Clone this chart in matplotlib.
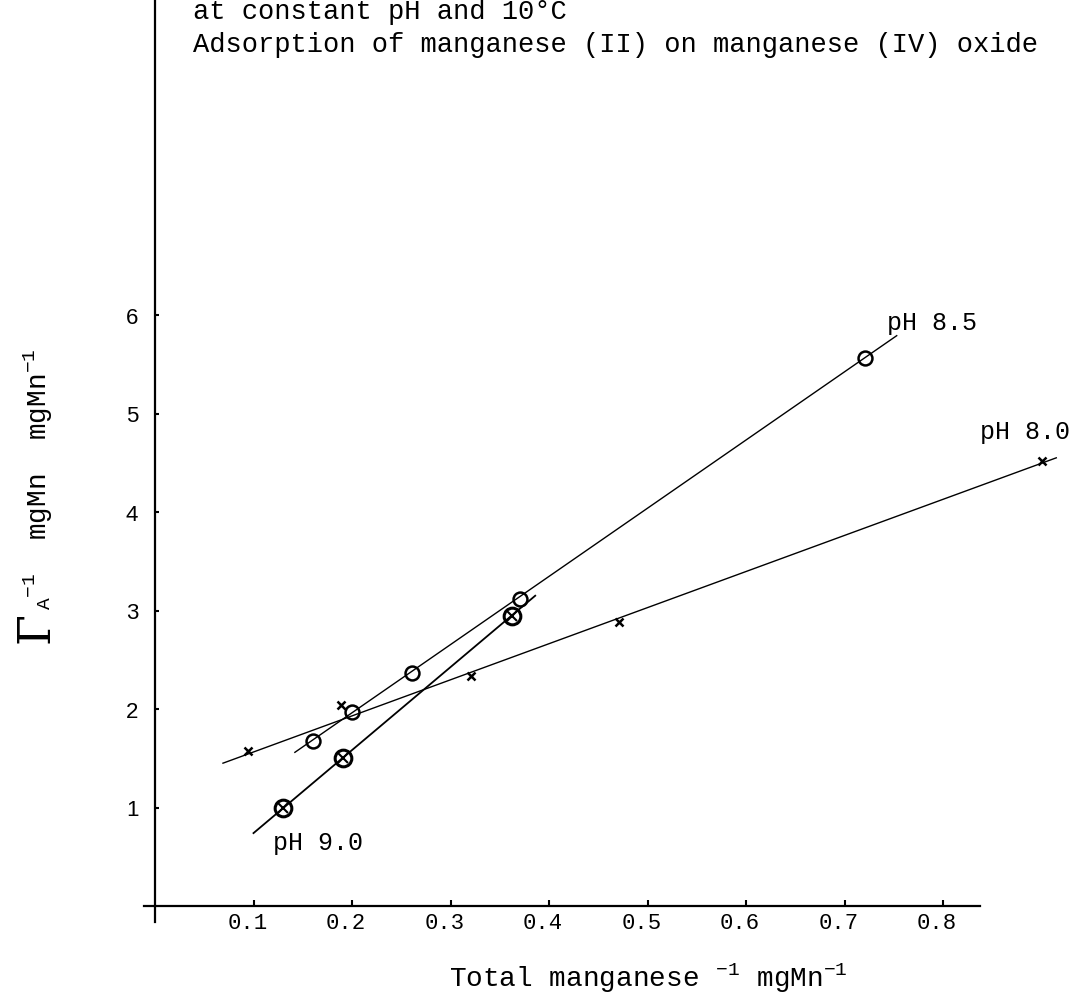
import numpy as np
import matplotlib
matplotlib.use("Agg")
import matplotlib.pyplot as plt
import matplotlib.transforms as mtransforms

# -----------------------------
# DATA
# -----------------------------

# pH 8.0 : crosses
x_80 = [0.094, 0.189, 0.321, 0.471, 0.900]
y_80 = [1.57, 2.04, 2.33, 2.88, 4.52]
fit_80_x = [0.069, 0.915]
fit_80_y = [1.45, 4.55]

# pH 8.5 : open circles
x_85 = [0.160, 0.200, 0.261, 0.371, 0.721]
y_85 = [1.68, 1.97, 2.37, 3.12, 5.56]
fit_85_x = [0.142, 0.753]
fit_85_y = [1.56, 5.79]

# pH 9.0 : crossed circles
x_90 = [0.130, 0.191, 0.362]
y_90 = [0.99, 1.50, 2.94]
fit_90_x = [0.100, 0.386]
fit_90_y = [0.74, 3.15]

xticks = [0.1, 0.2, 0.3, 0.4, 0.5, 0.6, 0.7, 0.8]
xticklabels = ["0.1", "0.2", "0.3", "0.4", "0.5", "0.6", "0.7", "0.8"]
yticks = [1, 2, 3, 4, 5, 6]
yticklabels = ["1", "2", "3", "4", "5", "6"]

MONO = "Liberation Mono"
plt.rcParams["mathtext.fontset"] = "custom"
plt.rcParams["mathtext.rm"] = MONO
plt.rcParams["mathtext.it"] = MONO

# -----------------------------
# FIGURE
# -----------------------------

W, H = 1082, 1004
fig = plt.figure(figsize=(W / 100, H / 100), dpi=100)
ax = fig.add_axes([0, 0, 1, 1])

# pixel scale: 0.1 on x and 1 on y are both ~98.5 px, origin at (155, 907)
px = 98.5
ax.set_xlim(-155 / (px * 10), (W - 155) / (px * 10))
ax.set_ylim(-(H - 907) / px, 907 / px)

for s in ["top", "right"]:
    ax.spines[s].set_visible(False)
ax.spines["left"].set_position(("data", 0))
ax.spines["bottom"].set_position(("data", 0))
ax.spines["left"].set_bounds(-0.16, 9.3)
ax.spines["bottom"].set_bounds(-0.011, 0.838)
ax.spines["left"].set_linewidth(1.6)
ax.spines["bottom"].set_linewidth(1.6)

ax.set_xticks(xticks)
ax.set_xticklabels(xticklabels, fontfamily=MONO, fontsize=16)
ax.set_yticks(yticks)
ax.set_yticklabels(yticklabels, fontfamily="Liberation Sans", fontsize=16)
ax.tick_params(axis="x", direction="in", length=4, width=1.5, pad=4)
ax.tick_params(axis="y", direction="in", length=3, width=1.5, pad=12)

# labels sit a little left of their ticks
shift = mtransforms.ScaledTranslation(-6 / 100, 0, fig.dpi_scale_trans)
for lbl in ax.get_xticklabels():
    lbl.set_transform(lbl.get_transform() + shift)

# fitted lines
ax.plot(fit_80_x, fit_80_y, color="black", lw=1.0)
ax.plot(fit_85_x, fit_85_y, color="black", lw=1.0)
ax.plot(fit_90_x, fit_90_y, color="black", lw=1.3)

# points
ax.plot(x_80, y_80, "x", color="black", ms=6, mew=1.8)
ax.plot(x_85, y_85, "o", color="black", mfc="none", ms=10, mew=1.8)
ax.plot(x_90, y_90, "o", color="black", mfc="none", ms=12, mew=2.2)
ax.plot(x_90, y_90, "x", color="black", ms=7, mew=1.5)

# curve labels
ax.text(0.743, 5.93, "pH 8.5", fontfamily=MONO, fontsize=18, va="center", ha="left")
ax.text(0.838, 4.82, "pH 8.0", fontfamily=MONO, fontsize=18, va="center", ha="left")
ax.text(0.120, 0.65, "pH 9.0", fontfamily=MONO, fontsize=18, va="center", ha="left")

# axis titles
fig.text(648 / W, 1 - 978 / H, r"Total manganese $^{-1}$ mgMn$^{-1}$",
         fontfamily=MONO, fontsize=20, ha="center", va="center")
fig.text(36 / W, 1 - 628 / H, "Γ", fontfamily="DejaVu Serif", fontsize=32,
         ha="center", va="center", rotation=90)
fig.text(38 / W, 1 - 610 / H, r"$_{A}$$^{-1}$  mgMn  mgMn$^{-1}$",
         fontfamily=MONO, fontsize=20, ha="center", va="bottom", rotation=90)

# heading (top line partly cut off)
fig.text(193 / W, 1 - 12 / H, "at constant pH and 10°C",
         fontfamily=MONO, fontsize=19.5, ha="left", va="center")
fig.text(193 / W, 1 - 45 / H, "Adsorption of manganese (II) on manganese (IV) oxide",
         fontfamily=MONO, fontsize=19.5, ha="left", va="center")

fig.savefig("out.png", dpi=100)
